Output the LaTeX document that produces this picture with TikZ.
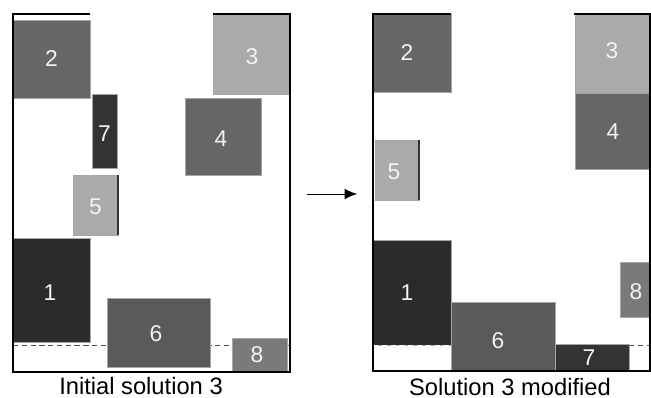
\documentclass[tikz,border=0pt]{standalone}
\usepackage{fontspec}
\setmainfont{Liberation Sans}
\usetikzlibrary{arrows.meta}
\definecolor{blkA}{HTML}{2B2B2B}
\definecolor{blkB}{HTML}{333333}
\definecolor{blkC}{HTML}{5A5A5A}
\definecolor{blkD}{HTML}{666666}
\definecolor{blkE}{HTML}{7A7A7A}
\definecolor{blkF}{HTML}{AAAAAA}
\begin{document}
\begin{tikzpicture}[x=0.02cm,y=-0.02cm,
    box/.style={draw=gray!70,line width=0.5pt},
    num/.style={text=white!95!black,font=\fontsize{13}{13}\selectfont},
    wall/.style={line width=1.3pt,line join=miter},
    cut/.style={densely dashed,line width=0.4pt,gray!60!black},
    captext/.style={font=\fontsize{13.5}{14}\selectfont}]
    \useasboundingbox (0,0) rectangle (651,398);
    % initial solution
    \draw[cut] (13,345.5) -- (290,345.5);
    \draw[box,fill=blkD] (13,20) rectangle (90,98);
    \node[num] (a2) at (51.5,59) {2};
    \draw[box,fill=blkB] (92,94) rectangle (117,168);
    \node[num] (a7) at (104.5,134) {7};
    \draw[box,fill=blkF] (213,15) rectangle (289,94);
    \node[num] (a3) at (252,57) {3};
    \draw[box,fill=blkD] (185,98) rectangle (261,175);
    \node[num] (a4) at (221,139) {4};
    \draw[box,fill=blkF] (73,175) rectangle (118,235);
    \draw[line width=0.8pt,gray!40!black] (118,175) -- (118,235);
    \node[num] (a5) at (95.5,207) {5};
    \draw[box,fill=blkA] (13,238) rectangle (90,342);
    \node[num] (a1) at (50,293) {1};
    \draw[box,fill=blkC] (107,298) rectangle (210,367);
    \node[num] (a6) at (156,334) {6};
    \draw[box,fill=blkE] (232,338) rectangle (287,372);
    \node[num] (a8) at (257,355) {8};
    \draw[wall] (90,14) -- (13,14) -- (13,372) -- (290,372) -- (290,14) -- (213,14);
    \node[captext] (capA) at (141,386) {Initial solution 3};
    % modified solution
    \draw[cut] (629,345) -- (650,345);
    \draw[box,fill=blkD] (373,14) rectangle (451,92);
    \node[num] (b2) at (407,53) {2};
    \draw[box,fill=blkF] (575,14) rectangle (650,93);
    \node[num] (b3) at (612,51) {3};
    \draw[box,fill=blkD] (575,93) rectangle (650,169);
    \node[num] (b4) at (613,132) {4};
    \draw[box,fill=blkF] (375,140) rectangle (419,200);
    \draw[line width=0.8pt,gray!40!black] (419,140) -- (419,200);
    \node[num] (b5) at (394,172) {5};
    \draw[box,fill=blkA] (373,240) rectangle (451,345);
    \draw[cut,white] (373,345) -- (451,345);
    \node[num] (b1) at (407,293) {1};
    \draw[box,fill=blkC] (451,302) rectangle (555,371);
    \node[num] (b6) at (498,341) {6};
    \draw[box,fill=blkB] (555,344) rectangle (629,371);
    \node[num] (b7) at (589,358) {7};
    \draw[box,fill=blkE] (620,262) rectangle (650,317);
    \node[num] (b8) at (636,292) {8};
    \draw[wall] (451,14) -- (373,14) -- (373,371) -- (650,371) -- (650,14) -- (574,14);
    \node[captext] (capB) at (510,387) {Solution 3 modified};
    % arrow between the two
    \coordinate (src) at (307,194);
    \coordinate (dst) at (357,194);
    \draw[-{Latex[length=7pt,width=6pt]},line width=0.5pt] (src) -- (dst);
\end{tikzpicture}
\end{document}
